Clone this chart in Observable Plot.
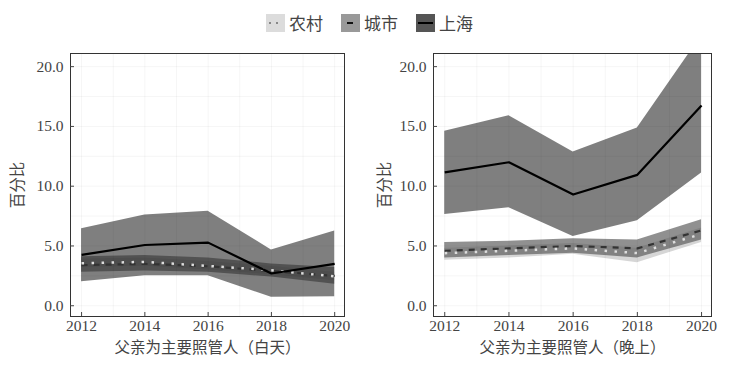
<!DOCTYPE html>
<html>
<head>
<meta charset="utf-8">
<script src="https://cdn.jsdelivr.net/npm/d3@7"></script>
<script src="https://cdn.jsdelivr.net/npm/@observablehq/plot@0.6"></script>
<style>
  body { margin: 0; background: #fff; font-family: "Liberation Serif", "DejaVu Serif", "Noto Sans CJK SC", serif; }
  #legend { height: 40px; display: flex; justify-content: center; align-items: center; font-size: 17px; color: #444; padding-top: 5px; box-sizing: border-box; }
  .item { display: flex; align-items: center; margin: 0 9px; }
  .item svg { margin-right: 4px; }
  #charts { display: flex; }
  #charts svg text { font-family: "Liberation Serif", "DejaVu Serif", "Noto Sans CJK SC", serif !important; }
</style>
</head>
<body>
<div id="legend"></div>
<div id="charts"></div>
<script>
const years = [2012, 2014, 2016, 2018, 2020];
const groups = ["农村", "城市", "上海"];
const xTicks = [2012, 2014, 2016, 2018, 2020];
const yTicks = [0, 5, 10, 15, 20];
const gridX = [2012, 2013, 2014, 2015, 2016, 2017, 2018, 2019, 2020];
const gridY = [0, 2.5, 5, 7.5, 10, 12.5, 15, 17.5, 20];
const panelTitles = ["父亲为主要照管人（白天）", "父亲为主要照管人（晚上）"];

// 白天
const dayRural   = [3.55, 3.67, 3.33, 2.97, 2.45];
const dayRuralLo = [3.2, 3.3, 3.0, 2.6, 2.1];
const dayRuralHi = [3.9, 4.0, 3.7, 3.3, 2.8];
const dayUrban   = [3.4, 3.5, 3.3, 2.9, 2.5];
const dayUrbanLo = [2.8, 2.9, 2.8, 2.4, 1.8];
const dayUrbanHi = [4.1, 4.2, 4.0, 3.5, 3.2];
const daySH      = [4.25, 5.08, 5.28, 2.7, 3.5];
const daySHLo    = [2.0, 2.5, 2.5, 0.7, 0.75];
const daySHHi    = [6.45, 7.6, 7.9, 4.67, 6.25];
// 晚上
const nightRural   = [4.4, 4.6, 4.8, 4.4, 6.0];
const nightRuralLo = [3.8, 4.0, 4.3, 3.6, 5.3];
const nightRuralHi = [4.8, 5.0, 5.2, 4.8, 6.5];
const nightUrban   = [4.6, 4.8, 5.0, 4.8, 6.3];
const nightUrbanLo = [4.0, 4.2, 4.4, 4.0, 5.5];
const nightUrbanHi = [5.3, 5.4, 5.6, 5.5, 7.2];
const nightSH      = [11.15, 12.0, 9.3, 10.95, 16.75];
const nightSHLo    = [7.64, 8.2, 5.8, 7.1, 11.1];
const nightSHHi    = [14.6, 15.9, 12.86, 14.86, 22.6];

const styles = {
  "农村": {fill: "#bbbbbb", fillOpacity: 0.6, stroke: "#dddddd", dash: "2.5,7.5", swatch: "#dcdcdc", legendStroke: "#888"},
  "城市": {fill: "#555555", fillOpacity: 0.65, stroke: "#333", dash: "6,6", swatch: "#999999", legendStroke: "#111"},
  "上海": {fill: "#2a2a2a", fillOpacity: 0.6, stroke: "#000", dash: null, swatch: "#555555", legendStroke: "#000"}
};
const lineOrder = ["城市", "农村", "上海"];

function rows(vals) {
  const out = [];
  vals.forEach(([g, v, lo, hi]) => years.forEach((yr, i) => out.push({group: g, year: yr, y: v[i], lo: lo[i], hi: hi[i]})));
  return out;
}
const dayData = rows([["农村", dayRural, dayRuralLo, dayRuralHi], ["城市", dayUrban, dayUrbanLo, dayUrbanHi], ["上海", daySH, daySHLo, daySHHi]]);
const nightData = rows([["农村", nightRural, nightRuralLo, nightRuralHi], ["城市", nightUrban, nightUrbanLo, nightUrbanHi], ["上海", nightSH, nightSHLo, nightSHHi]]);

// legend
const legend = document.getElementById("legend");
groups.forEach(g => {
  const s = styles[g];
  const item = document.createElement("div");
  item.className = "item";
  item.innerHTML = `<svg width="19" height="18"><rect width="19" height="18" fill="${s.swatch}"/><line x1="2" x2="17" y1="9" y2="9" stroke="${s.legendStroke}" stroke-width="2" ${s.dash ? `stroke-dasharray="${g === "农村" ? "2,5" : "6,6"}" stroke-dashoffset="${g === "农村" ? -1 : -4}"` : ""}/></svg><span>${g}</span>`;
  legend.appendChild(item);
});

function panel(data, title, width, ml, mr, yLabelOffset) {
  const marks = [];
  groups.forEach(g => {
    const s = styles[g];
    marks.push(Plot.areaY(data.filter(d => d.group === g), {x: "year", y1: "lo", y2: "hi", fill: s.fill, fillOpacity: s.fillOpacity, clip: true}));
  });
  marks.push(Plot.ruleX(gridX, {stroke: "#000", strokeOpacity: 0.04}));
  marks.push(Plot.ruleY(gridY, {stroke: "#000", strokeOpacity: 0.04}));
  lineOrder.forEach(g => {
    const s = styles[g];
    marks.push(Plot.lineY(data.filter(d => d.group === g), {x: "year", y: "y", stroke: s.stroke, strokeWidth: g === "农村" ? 2.5 : 2.2, strokeDasharray: s.dash, strokeLinecap: "butt", clip: true}));
  });
  marks.push(Plot.frame({stroke: "#333", strokeWidth: 1}));
  marks.push(Plot.axisX({ticks: xTicks, tickFormat: d => String(d), tickSize: -4, tickPadding: 7, label: title, labelAnchor: "center", labelArrow: "none", labelOffset: 36, fontSize: 15.5, color: "#444"}));
  marks.push(Plot.axisY({ticks: yTicks, tickFormat: d => d.toFixed(1), tickSize: -4, tickPadding: 11, label: "百分比", labelAnchor: "center", labelArrow: "none", labelOffset: yLabelOffset, fontSize: 15.5, color: "#444"}));
  const svg = Plot.plot({
    width, height: 330,
    marginTop: 13, marginBottom: 54, marginLeft: ml, marginRight: mr,
    style: {fontSize: "15.5px", color: "#444", background: "#fff"},
    x: {domain: [2011.65, 2020.31]},
    y: {domain: [-0.9, 21.1]},
    marks
  });
  svg.querySelectorAll("text").forEach(t => {
    if (/[↑↓←→]/.test(t.textContent)) t.textContent = t.textContent.replace(/\s*[↑↓←→]\s*/g, "");
  });
  return svg;
}

const charts = document.getElementById("charts");
charts.appendChild(panel(dayData, panelTitles[0], 369, 70, 25, 59));
charts.appendChild(panel(nightData, panelTitles[1], 370, 64, 28, 55));
</script>
</body>
</html>
